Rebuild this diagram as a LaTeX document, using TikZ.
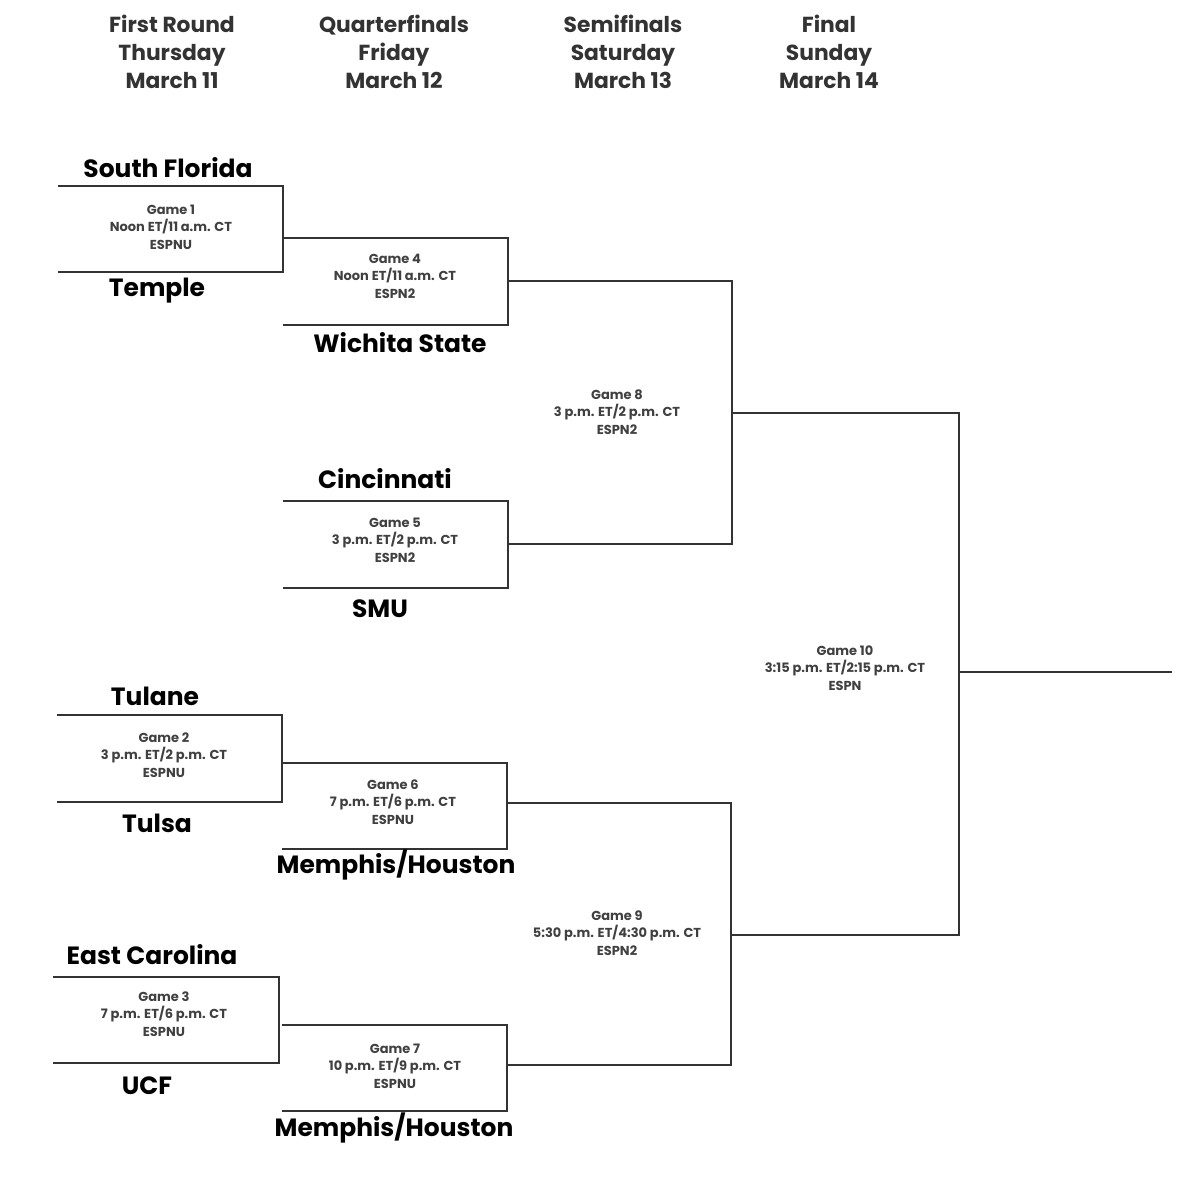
\documentclass[tikz,border=0pt]{standalone}
\usepackage{fontspec}
\setmainfont{Poppins}
\usepackage{tikz}
\usetikzlibrary{calc}
\tikzstyle{head}=[font=\fontsize{12.4}{16}\selectfont\bfseries, text=black!80, align=center]
\tikzstyle{team}=[font=\fontsize{14.2}{16}\selectfont\bfseries, text=black]
\tikzstyle{info}=[font=\fontsize{7.4}{10}\selectfont\bfseries, text=black!75, align=center]
\tikzstyle{line}=[draw=black!80, line width=0.9pt]
% #1 name, #2 left x, #3 right x, #4 top y, #5 bottom y
\newcommand{\gameBox}[5]{
	\coordinate (#1tl) at (#2,#4);
	\coordinate (#1tr) at (#3,#4);
	\coordinate (#1bl) at (#2,#5);
	\coordinate (#1br) at (#3,#5);
	\draw[line] (#1tl) -- (#1tr) -- (#1br) -- (#1bl);
}
\begin{document}
\begin{tikzpicture}[x=0.02cm,y=-0.02cm]
	\useasboundingbox (0,0) rectangle (1200,1180);
	\node[head] (h1) at (172,52) {First Round\\Thursday\\March 11};
	\node[head] (h2) at (394,52) {Quarterfinals\\Friday\\March 12};
	\node[head] (h3) at (623,52) {Semifinals\\Saturday\\March 13};
	\node[head] (h4) at (829,52) {Final\\Sunday\\March 14};
	% first round
	\gameBox{ga}{58}{283}{186}{272}
	\node[team] (usf) at (168,168) {South Florida};
	\node[team] (tem) at (157,291) {Temple};
	\node[info] (g1) at (171,227) {Game 1\\Noon ET/11 a.m. CT\\ESPNU};
	\gameBox{gb}{57}{282}{715}{802}
	\node[team] (tul) at (155,696) {Tulane};
	\node[team] (tls) at (157,823) {Tulsa};
	\node[info] (g2) at (164,755) {Game 2\\3 p.m. ET/2 p.m. CT\\ESPNU};
	\gameBox{gc}{53}{279}{977}{1063}
	\node[team] (ecu) at (152,955) {East Carolina};
	\node[team] (ucf) at (147,1086) {UCF};
	\node[info] (g3) at (164,1014) {Game 3\\7 p.m. ET/6 p.m. CT\\ESPNU};
	% quarterfinals
	\gameBox{gd}{283}{508}{238}{325}
	\node[team] (wsu) at (400,343) {Wichita State};
	\node[info] (g4) at (395,276) {Game 4\\Noon ET/11 a.m. CT\\ESPN2};
	\gameBox{ge}{283}{508}{501}{588}
	\node[team] (cin) at (385,479) {Cincinnati};
	\node[team] (smu) at (380,609) {SMU};
	\node[info] (g5) at (395,540) {Game 5\\3 p.m. ET/2 p.m. CT\\ESPN2};
	\gameBox{gf}{282}{507}{763}{849}
	\node[team] (mh1) at (396,865) {Memphis/Houston};
	\node[info] (g6) at (393,802) {Game 6\\7 p.m. ET/6 p.m. CT\\ESPNU};
	\gameBox{gg}{282}{507}{1025}{1111}
	\node[team] (mh2) at (394,1128) {Memphis/Houston};
	\node[info] (g7) at (395,1066) {Game 7\\10 p.m. ET/9 p.m. CT\\ESPNU};
	% semifinals
	\gameBox{gh}{508}{732}{281}{544}
	\node[info] (g8) at (617,412) {Game 8\\3 p.m. ET/2 p.m. CT\\ESPN2};
	\gameBox{gi}{507}{731}{803}{1065}
	\node[info] (g9) at (617,933) {Game 9\\5:30 p.m. ET/4:30 p.m. CT\\ESPN2};
	% final
	\coordinate (ghm) at (732,413);
	\coordinate (gim) at (731,935);
	\coordinate (gjt) at (959,413);
	\coordinate (gjb) at (959,935);
	\coordinate (gjm) at (959,672);
	\coordinate (champ) at (1172,672);
	\draw[line] (ghm) -- (gjt) -- (gjb) -- (gim);
	\draw[line] (gjm) -- (champ);
	\node[info] (g10) at (845,668) {Game 10\\3:15 p.m. ET/2:15 p.m. CT\\ESPN};
\end{tikzpicture}
\end{document}
